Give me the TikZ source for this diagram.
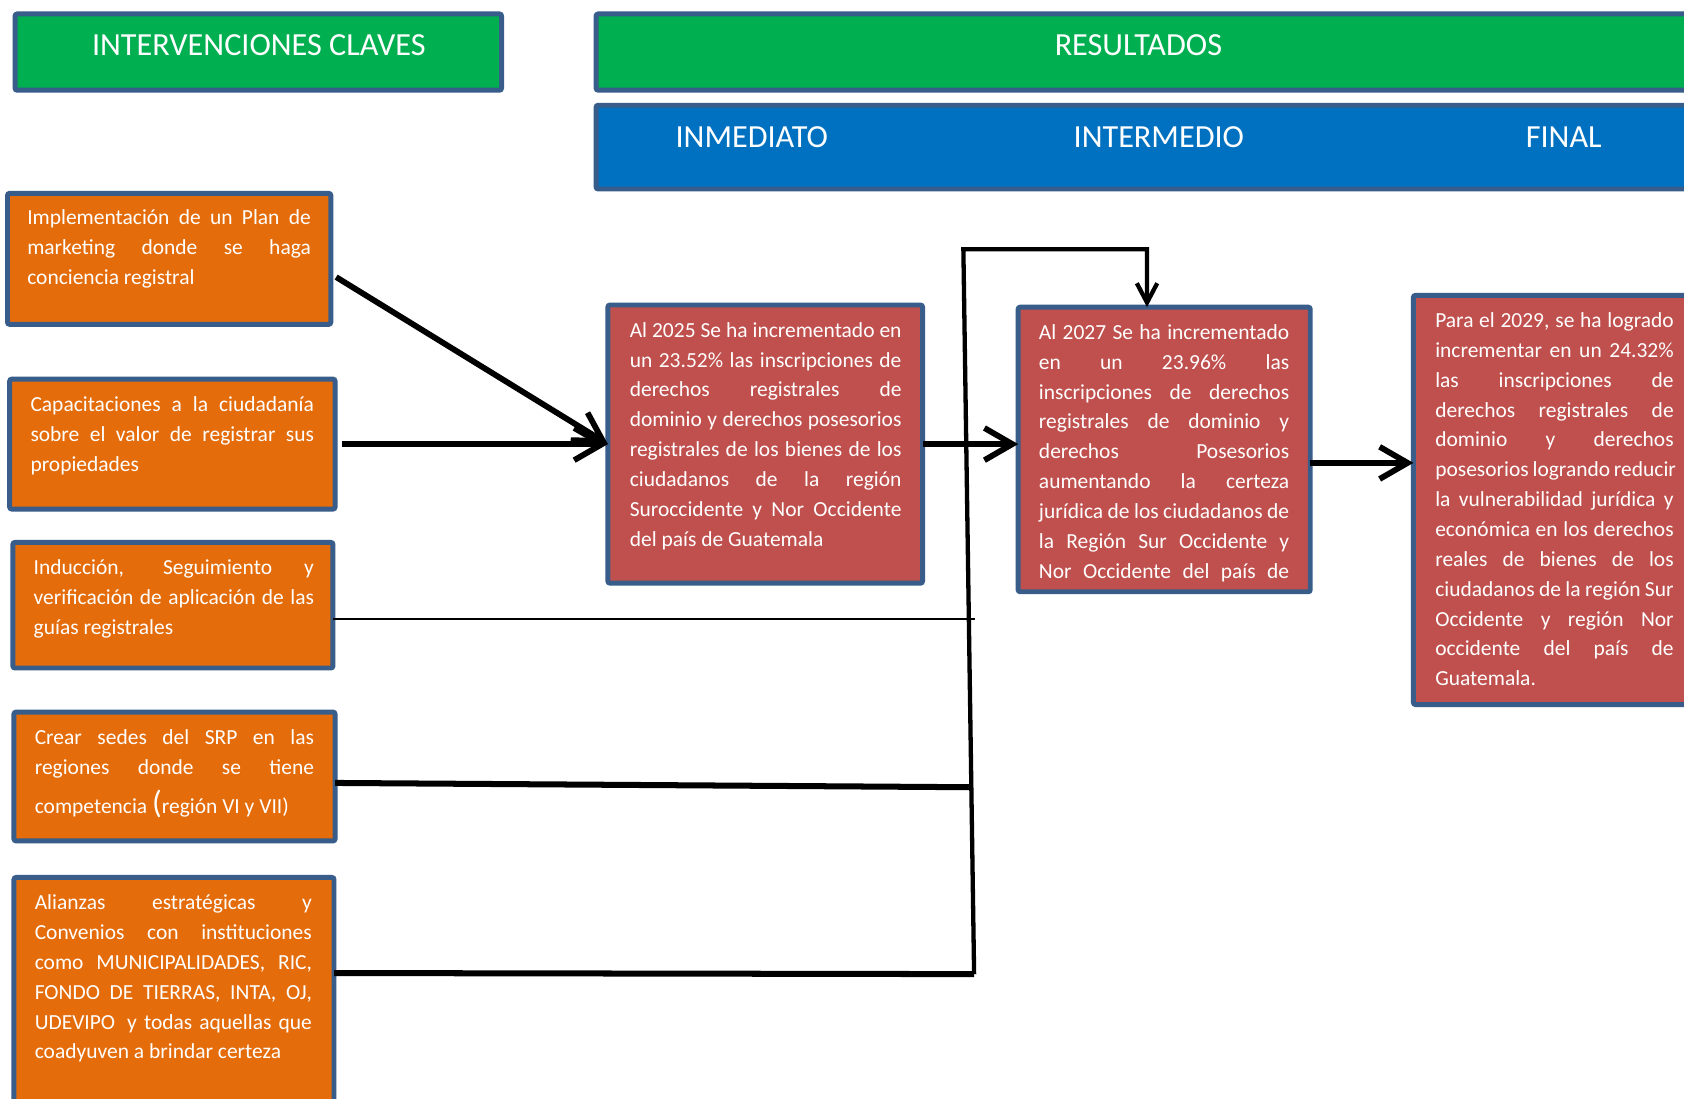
\documentclass[tikz,border=0pt]{standalone}
\usepackage{fontspec}
\setmainfont{Carlito}
\usetikzlibrary{arrows.meta,calc}
\definecolor{hgreen}{HTML}{00B050}
\definecolor{hblue}{HTML}{0070C0}
\definecolor{borange}{HTML}{E46C0A}
\definecolor{bred}{HTML}{C0504D}
\definecolor{bline}{HTML}{385D8A}
\newcommand\jl[1]{\hbox to\hsize{\spaceskip=.226em plus 1fil minus .05em\relax #1}}
\newcommand\tb[2]{\vtop{\hsize=#1\relax #2}}
\tikzset{
  boxbase/.style={rectangle, draw=bline, line width=2.3pt, anchor=north west, inner sep=0pt, outer sep=0pt, rounded corners=1pt},
  obox/.style={boxbase, fill=borange},
  rbox/.style={boxbase, fill=bred},
  gbox/.style={boxbase, fill=hgreen},
  bbox/.style={boxbase, fill=hblue},
  btext/.style={anchor=base west, inner sep=0pt, text=white, font=\fontsize{10}{13.9}\selectfont},
  htext/.style={anchor=base, inner sep=0pt, text=white, font=\fontsize{15}{16}\selectfont},
  arr/.style={line width=2.7pt, -{Straight Barb[length=13pt,width=15pt]}},
  thick line/.style={line width=2.8pt},
}
\begin{document}
\begin{tikzpicture}[x=0.5pt,y=-0.5pt]
\useasboundingbox (0,0) rectangle (1568,1023);
\fill[white] (0,0) rectangle (1568,1023);
\clip (0,0) rectangle (1568,1023);
% headers
\node[gbox, minimum width=226.5pt, minimum height=35.5pt] (g1) at (14,13) {};
\node[gbox, minimum width=530pt, minimum height=35.5pt] (g2) at (555,13) {};
\node[bbox, minimum width=530pt, minimum height=39pt] (b1) at (555,98) {};
\node[htext] (g1t) at (241,51.5) {INTERVENCIONES CLAVES};
\node[htext] (g2t) at (1060,51.5) {RESULTADOS};
\node[htext] (b1a) at (700,137.2) {INMEDIATO};
\node[htext] (b1b) at (1079,137.2) {INTERMEDIO};
\node[htext] (b1c) at (1456,137.2) {FINAL};
% orange boxes
\node[obox, minimum width=150.5pt, minimum height=61pt] (o1) at (7,180) {};
\node[obox, minimum width=151.5pt, minimum height=60.5pt] (o2) at (9,353) {};
\node[obox, minimum width=149pt, minimum height=58.5pt] (o3) at (12,505) {};
\node[obox, minimum width=149.5pt, minimum height=60pt] (o4) at (13,663) {};
\node[obox, minimum width=149pt, minimum height=115pt] (o5) at (13,817) {};
% red boxes
\node[rbox, minimum width=146.5pt, minimum height=129.5pt] (r1) at (566,284) {};
\node[rbox, minimum width=136pt, minimum height=132.5pt] (r2) at (948,286) {};
\node[rbox, minimum width=140pt, minimum height=190.5pt] (r3) at (1316,275) {};
% texts
\node[btext] (o1t) at (25,209) {\tb{132pt}{\jl{Implementación de un Plan de}\jl{marketing donde se haga}\hbox{conciencia registral}}};
\node[btext] (o2t) at (28,383) {\tb{132pt}{\jl{Capacitaciones a la ciudadanía}\jl{sobre el valor de registrar sus}\hbox{propiedades}}};
\node[btext] (o3t) at (31,535) {\tb{130.5pt}{\jl{Inducción, Seguimiento y}\jl{verificación de aplicación de las}\hbox{guías registrales}}};
\node[btext] (o4t) at (32,693) {\tb{130pt}{\jl{Crear sedes del SRP en las}\jl{regiones donde se tiene}\vskip4.5pt\hbox{competencia {\fontsize{15}{15}\selectfont(}región VI y VII)}}};
\node[btext] (o5t) at (32,847) {\tb{129pt}{\jl{Alianzas estratégicas y}\jl{Convenios con instituciones}\jl{como MUNICIPALIDADES, RIC,}\jl{FONDO DE TIERRAS, INTA, OJ,}\jl{UDEVIPO\hspace{.226em} y todas aquellas que}\hbox{coadyuven a brindar certeza}}};
\node[btext] (r1t) at (586,314) {\tb{126.5pt}{\jl{Al 2025 Se ha incrementado en}\jl{un 23.52\% las inscripciones de}\jl{derechos registrales de}\jl{dominio y derechos posesorios}\jl{registrales de los bienes de los}\jl{ciudadanos de la región}\jl{Suroccidente y Nor Occidente}\hbox{del país de Guatemala}}};
\node[btext] (r2t) at (967,316) {\tb{116.5pt}{\jl{Al 2027 Se ha incrementado}\jl{en un 23.96\% las}\jl{inscripciones de derechos}\jl{registrales de dominio y}\jl{derechos Posesorios}\jl{aumentando la certeza}\jl{jurídica de los ciudadanos de}\jl{la Región Sur Occidente y}\jl{Nor Occidente del país de}}};
\node[btext] (r3t) at (1336,305) {\tb{111pt}{\jl{Para el 2029, se ha logrado}\jl{incrementar en un 24.32\%}\jl{las inscripciones de}\jl{derechos registrales de}\jl{dominio y derechos}\jl{posesorios logrando reducir}\jl{la vulnerabilidad jurídica y}\jl{económica en los derechos}\jl{reales de bienes de los}\jl{ciudadanos de la región Sur}\jl{Occidente y región Nor}\jl{occidente del país de}\hbox{Guatemala.}}};
% connector coordinates
\coordinate (bt) at (897,232);
\coordinate (bb) at (907,907);
\coordinate (c3) at (908,576);
\coordinate (c4) at (905,733);
\coordinate (ta) at ($(r2.north west)+(120,0)$);
\coordinate (s1) at ($(o1.east)+(5,17)$);
\coordinate (s2) at ($(o2.east)+(6,0)$);
\coordinate (s3) at ($(o3.east)+(0,12.5)$);
\coordinate (s4) at ($(o4.east)+(0,6)$);
\coordinate (s5) at ($(o5.north east)+(0,89)$);
\coordinate (a23) at ($(r2.east)+(0,12.5)$);
% connectors
\draw[arr] (s1) -- (r1.west);
\draw[arr] (s2) -- (s2 -| r1.west);
\draw[arr] (r1.east) -- (r1.east -| r2.west);
\draw[arr] (a23) -- (a23 -| r3.west);
\draw[line width=1pt] (s3) -- (c3);
\draw[thick line] (s4) -- (c4);
\draw[thick line, line join=miter] (s5) -- (bb);
\draw[line width=2pt, line join=miter, -{Straight Barb[length=9pt,width=9.5pt]}] (bb) -- (bt) -- (bt -| ta) -- (ta);
\end{tikzpicture}
\end{document}
